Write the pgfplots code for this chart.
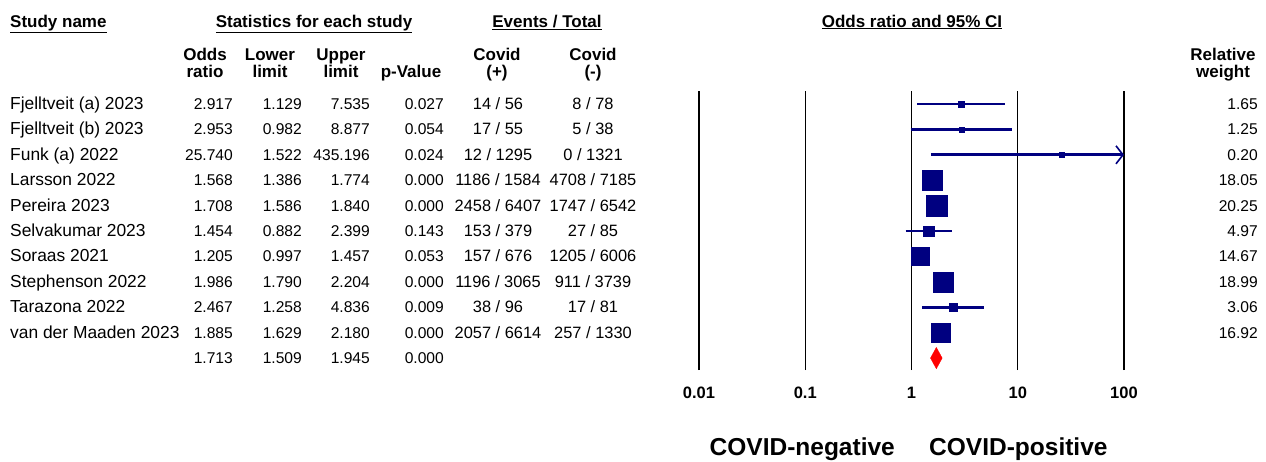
\documentclass[border=0pt]{standalone}
\usepackage{fontspec}
\setmainfont{Liberation Sans}
\usepackage{pgfplots}
\usepackage{pgfplotstable}
\pgfplotsset{compat=1.18}
\usetikzlibrary{arrows.meta}

\definecolor{navy}{RGB}{0,0,128}

% Per-study results: odds ratio, 95% CI, p-value, events/total and relative weight
\pgfplotstableread[col sep=comma]{
name,or,lo,hi,p,evp,evn,w
Fjelltveit (a) 2023,2.917,1.129,7.535,0.027,14 / 56,8 / 78,1.65
Fjelltveit (b) 2023,2.953,0.982,8.877,0.054,17 / 55,5 / 38,1.25
Funk (a) 2022,25.740,1.522,435.196,0.024,12 / 1295,0 / 1321,0.20
Larsson 2022,1.568,1.386,1.774,0.000,1186 / 1584,4708 / 7185,18.05
Pereira 2023,1.708,1.586,1.840,0.000,2458 / 6407,1747 / 6542,20.25
Selvakumar 2023,1.454,0.882,2.399,0.143,153 / 379,27 / 85,4.97
Soraas 2021,1.205,0.997,1.457,0.053,157 / 676,1205 / 6006,14.67
Stephenson 2022,1.986,1.790,2.204,0.000,1196 / 3065,911 / 3739,18.99
Tarazona 2022,2.467,1.258,4.836,0.009,38 / 96,17 / 81,3.06
van der Maaden 2023,1.885,1.629,2.180,0.000,2057 / 6614,257 / 1330,16.92
}\studies

% Pooled estimate
\def\sumor{1.713}
\def\sumlo{1.509}
\def\sumhi{1.945}
\def\sump{0.000}

\newcommand\txt{\fontsize{17.4}{19}\selectfont}
\newcommand\num{\fontsize{15.6}{19}\selectfont}
\newcommand\frc{\fontsize{16.4}{19}\selectfont}
\newcommand\hdr{\bfseries\fontsize{17}{17}\selectfont}

\begin{document}
\begin{tikzpicture}[every node/.style={inner sep=0pt}]
\useasboundingbox (0,0) rectangle (1266pt,-461pt);

% ---- column headings ----
\node[anchor=base west,font=\hdr] at (10pt,-27pt) {\underline{Study name}};
\node[anchor=base,font=\hdr] at (314pt,-27pt) {\underline{Statistics for each study}};
\node[anchor=base,font=\hdr] at (547pt,-27pt) {\underline{Events / Total}};
\node[anchor=base,font=\hdr] at (912pt,-27pt) {\underline{Odds ratio and 95\% CI}};

\foreach \x/\a/\b in {205/Odds/ratio, 270/Lower/limit, 341/Upper/limit,
                      497/Covid/(+), 593/Covid/(-), 1223/Relative/weight} {
  \node[anchor=base,font=\hdr] at (\x pt,-60pt) {\a};
  \node[anchor=base,font=\hdr] at (\x pt,-77pt) {\b};
}
\node[anchor=base,font=\hdr] at (411pt,-77pt) {p-Value};

% ---- study rows ----
\foreach \i in {0,...,9} {
  \pgfmathsetmacro\yb{-(109.5+\i*25.4)}
  \pgfplotstablegetelem{\i}{name}\of\studies
  \node[anchor=base west,font=\txt] at (10pt,\yb pt) {\pgfplotsretval};
  \pgfplotstablegetelem{\i}{or}\of\studies
  \node[anchor=base east,font=\num] at (233pt,\yb pt) {\pgfplotsretval};
  \pgfplotstablegetelem{\i}{lo}\of\studies
  \node[anchor=base east,font=\num] at (302pt,\yb pt) {\pgfplotsretval};
  \pgfplotstablegetelem{\i}{hi}\of\studies
  \node[anchor=base east,font=\num] at (370pt,\yb pt) {\pgfplotsretval};
  \pgfplotstablegetelem{\i}{p}\of\studies
  \node[anchor=base east,font=\num] at (444pt,\yb pt) {\pgfplotsretval};
  \pgfplotstablegetelem{\i}{evp}\of\studies
  \node[anchor=base,font=\frc] at (498pt,\yb pt) {\pgfplotsretval};
  \pgfplotstablegetelem{\i}{evn}\of\studies
  \node[anchor=base,font=\frc] at (593pt,\yb pt) {\pgfplotsretval};
  \pgfplotstablegetelem{\i}{w}\of\studies
  \node[anchor=base east,font=\num] at (1258pt,\yb pt) {\pgfplotsretval};
}
% pooled row
\pgfmathsetmacro\yb{-(109.5+10*25.4)}
\node[anchor=base east,font=\num] at (233pt,\yb pt) {\sumor};
\node[anchor=base east,font=\num] at (302pt,\yb pt) {\sumlo};
\node[anchor=base east,font=\num] at (370pt,\yb pt) {\sumhi};
\node[anchor=base east,font=\num] at (444pt,\yb pt) {\sump};

% ---- forest plot ----
\begin{axis}[
  at={(699pt,-370pt)}, anchor=south west,
  scale only axis, width=425pt, height=279pt,
  xmode=log, log basis x=10,
  xmin=0.01, xmax=100, ymin=-11.47, ymax=-0.488,
  axis line style={draw=none},
  xtick={0.01,0.1,1,10,100},
  xticklabels={0.01,0.1,1,10,100},
  ytick=\empty,
  major tick length=0pt, minor tick length=0pt,
  xmajorgrids,
  major grid style={black, line width=1.1pt},
  xticklabel style={anchor=center, yshift=-23pt,
                    font=\bfseries\fontsize{16.5}{18}\selectfont},
  clip=false,
]
% confidence intervals (clipped at 100 with an arrow)
\pgfplotsforeachungrouped \i in {0,...,9} {
  \pgfplotstablegetelem{\i}{lo}\of\studies \let\lo\pgfplotsretval
  \pgfplotstablegetelem{\i}{hi}\of\studies \let\hi\pgfplotsretval
  \pgfmathsetmacro\hic{min(\hi,100)}
  \pgfmathtruncatemacro\over{\hi>100}
  \pgfmathsetmacro\yy{-\i-1}
  \ifnum\over=1
    \def\tip{-{Straight Barb[length=7pt,width=18pt,line width=1.6pt]}}%
  \else
    \def\tip{-}%
  \fi
  \edef\doplot{\noexpand\addplot[navy, line width=2.8pt, \tip]
    coordinates {(\lo,\yy) (\hic,\yy)};}%
  \doplot
}
% study estimates, box area proportional to weight
\addplot[only marks, mark=square*, navy,
  scatter, scatter/use mapped color={draw=navy, fill=navy},
  visualization depends on={max(2.33*sqrt(\thisrow{w}),2.4) \as \msz},
  scatter/@pre marker code/.append style={/tikz/mark size=\msz},
  mark options={line width=0.3pt}]
  table[x=or, y expr=-\coordindex-1] {\studies};
% pooled estimate
\addplot[fill=red, draw=red, line width=0.3pt]
  coordinates {(\sumlo,-11) (\sumor,-10.58) (\sumhi,-11) (\sumor,-11.42)} -- cycle;
\end{axis}

\node[anchor=base east,font=\bfseries\fontsize{24.5}{26}\selectfont] at (895pt,-455pt) {COVID-negative};
\node[anchor=base west,font=\bfseries\fontsize{24.5}{26}\selectfont] at (929pt,-455pt) {COVID-positive};
\end{tikzpicture}
\end{document}
